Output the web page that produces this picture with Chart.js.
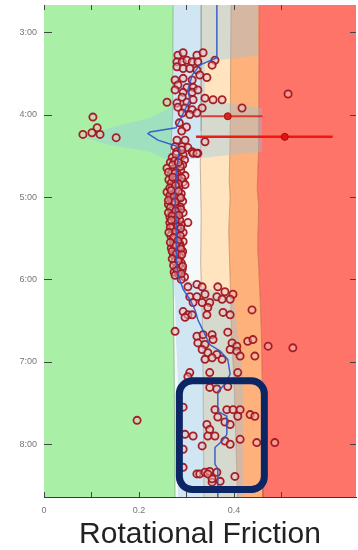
<!DOCTYPE html>
<html>
<head>
<meta charset="utf-8">
<script src="https://cdn.jsdelivr.net/npm/chart.js@4/dist/chart.umd.min.js"></script>
<style>
  html, body { margin: 0; padding: 0; background: #fff; }
  canvas { display: block; }
</style>
</head>
<body>
<canvas id="chart" width="358" height="550"></canvas>
<script>
// Axis ranges: friction (horizontal) and clock time in hours (vertical, downwards)
const frictionMin = 0, frictionMax = 0.657;
const timeMin = 2.67, timeMax = 8.64;
const hourLabels = ['3:00', '4:00', '5:00', '6:00', '7:00', '8:00'];
const frictionLabels = ['0', '0.2', '0.4', '0.6'];

// Zone boundaries [friction, hour]
const greenEdge  = [[0.272, 2.6], [0.271, 4.0], [0.266, 4.5], [0.268, 5.5], [0.272, 6.0], [0.274, 7.0], [0.276, 8.7]];
const whiteEdge  = [[0.331, 2.6], [0.331, 4.2], [0.329, 4.6], [0.331, 5.2], [0.330, 5.8], [0.333, 6.4], [0.335, 7.2], [0.337, 8.7]];
const peachEdge  = [[0.394, 2.6], [0.392, 4.3], [0.390, 4.8], [0.392, 5.0], [0.389, 5.4], [0.392, 6.0], [0.395, 6.7], [0.400, 7.2], [0.408, 8.7]];
const orangeEdge = [[0.453, 2.6], [0.452, 4.4], [0.449, 4.9], [0.452, 5.1], [0.450, 5.6], [0.455, 6.2], [0.458, 6.7], [0.460, 7.4], [0.461, 8.7]];

// Spread band around the trend
const spreadTime = [2.6, 3.28, 3.36, 3.82, 3.92, 4.04, 4.16, 4.28, 4.37, 4.45, 4.55, 5.03, 5.76, 6.0, 6.24, 6.73, 7.21, 8.7];
const spreadLow  = [0.272, 0.272, 0.272, 0.272, 0.265, 0.223, 0.139, 0.086, 0.139, 0.223, 0.261, 0.261, 0.263, 0.268, 0.276, 0.278, 0.282, 0.282];
const spreadHigh = [0.451, 0.451, 0.339, 0.339, 0.459, 0.459, 0.459, 0.459, 0.459, 0.459, 0.290, 0.288, 0.288, 0.300, 0.400, 0.410, 0.420, 0.420];

// Trend line [friction, hour]
const trend = [
  [0.364, 2.6], [0.364, 3.31], [0.328, 3.40], [0.312, 3.52], [0.303, 3.70], [0.307, 3.82], [0.297, 3.94],
  [0.286, 4.07], [0.278, 4.16], [0.223, 4.21], [0.219, 4.23], [0.240, 4.31], [0.278, 4.38], [0.286, 4.43],
  [0.282, 4.55], [0.278, 4.79], [0.276, 5.03], [0.278, 5.28], [0.280, 5.52], [0.278, 5.76], [0.282, 5.94],
  [0.293, 6.12], [0.307, 6.24], [0.318, 6.37], [0.324, 6.49], [0.339, 6.67], [0.349, 6.79], [0.371, 6.87],
  [0.387, 6.97], [0.392, 7.15], [0.381, 7.27], [0.366, 7.36], [0.366, 7.60], [0.385, 7.66], [0.385, 7.88],
  [0.375, 7.96], [0.360, 8.04], [0.360, 8.24], [0.366, 8.30], [0.366, 8.7]
];

// Readings [friction, hour]
const earlyReadings = [
  [0.282, 3.28], [0.293, 3.25], [0.322, 3.28], [0.335, 3.25], [0.360, 3.34], [0.354, 3.40], [0.280, 3.36],
  [0.291, 3.36], [0.301, 3.34], [0.312, 3.36], [0.324, 3.36], [0.280, 3.42], [0.293, 3.44], [0.307, 3.44],
  [0.322, 3.46], [0.343, 3.55], [0.276, 3.58], [0.293, 3.56], [0.312, 3.58], [0.328, 3.52], [0.282, 3.64],
  [0.301, 3.67], [0.314, 3.67], [0.276, 3.70], [0.293, 3.73], [0.312, 3.73], [0.324, 3.70], [0.291, 3.79],
  [0.259, 3.85], [0.280, 3.86], [0.301, 3.85], [0.314, 3.82], [0.339, 3.80], [0.356, 3.82], [0.375, 3.82],
  [0.282, 3.91], [0.297, 3.92], [0.312, 3.94], [0.333, 3.92], [0.291, 3.98], [0.307, 4.00], [0.322, 3.98],
  [0.417, 3.92], [0.514, 3.75], [0.285, 4.10], [0.300, 4.15], [0.290, 4.20]
];
const lowReadings = [
  [0.103, 4.03], [0.112, 4.16], [0.082, 4.24], [0.101, 4.22], [0.118, 4.24], [0.152, 4.28], [0.196, 7.71]
];
const steadyReadings = [
  [0.280, 4.31], [0.297, 4.31], [0.339, 4.33], [0.276, 4.39], [0.291, 4.39], [0.303, 4.40], [0.312, 4.45],
  [0.324, 4.47], [0.280, 4.45], [0.293, 4.49], [0.314, 4.47], [0.322, 4.47],
  [0.270, 4.52], [0.285, 4.53], [0.296, 4.55], [0.266, 4.58], [0.279, 4.60], [0.292, 4.61],
  [0.259, 4.65], [0.274, 4.66], [0.288, 4.68], [0.268, 4.72], [0.282, 4.73], [0.297, 4.74],
  [0.263, 4.79], [0.277, 4.80], [0.293, 4.82], [0.297, 4.85], [0.270, 4.87], [0.284, 4.88], [0.259, 4.94],
  [0.273, 4.95], [0.289, 4.96], [0.266, 5.01], [0.280, 5.03], [0.292, 5.05], [0.262, 5.09], [0.276, 5.10],
  [0.287, 5.12], [0.269, 5.16], [0.283, 5.18], [0.293, 5.19], [0.265, 5.24], [0.279, 5.25], [0.303, 5.31],
  [0.265, 5.31], [0.276, 5.32], [0.289, 5.34], [0.270, 5.39], [0.284, 5.41], [0.293, 5.43], [0.267, 5.47],
  [0.280, 5.48], [0.293, 5.54], [0.272, 5.55], [0.286, 5.57], [0.268, 5.62], [0.281, 5.64], [0.292, 5.66],
  [0.273, 5.70], [0.286, 5.72], [0.276, 5.78], [0.289, 5.80], [0.279, 5.86], [0.291, 5.88], [0.284, 5.94],
  [0.296, 5.97],
  [0.275, 4.56], [0.287, 4.63], [0.270, 4.69], [0.280, 4.76], [0.268, 4.83], [0.278, 4.91], [0.265, 4.98],
  [0.285, 5.00], [0.270, 5.06], [0.281, 5.14], [0.273, 5.21], [0.286, 5.28], [0.272, 5.35], [0.279, 5.44],
  [0.275, 5.51], [0.287, 5.60], [0.276, 5.67], [0.282, 5.75], [0.285, 5.83], [0.274, 5.91], [0.289, 6.00],
  [0.278, 4.48], [0.290, 4.43], [0.273, 5.58], [0.283, 5.91],
  [0.271, 4.61], [0.283, 4.58], [0.262, 4.70], [0.276, 4.71], [0.290, 4.77], [0.271, 4.76], [0.283, 4.84],
  [0.265, 4.89], [0.277, 4.86], [0.268, 4.92], [0.283, 4.93], [0.274, 5.00], [0.288, 5.01], [0.262, 5.04],
  [0.276, 5.06], [0.266, 5.13], [0.288, 5.15], [0.277, 5.17], [0.262, 5.19], [0.270, 5.23], [0.284, 5.22],
  [0.276, 5.28], [0.268, 5.28], [0.281, 5.36], [0.266, 5.37], [0.288, 5.38], [0.276, 5.42], [0.263, 5.43],
  [0.287, 5.47], [0.273, 5.49], [0.282, 5.53], [0.266, 5.55], [0.278, 5.59], [0.288, 5.63], [0.270, 5.66],
  [0.279, 5.69], [0.290, 5.70], [0.270, 5.75], [0.283, 5.78], [0.273, 5.83], [0.292, 5.84], [0.280, 5.89],
  [0.276, 5.95], [0.289, 5.93]
];
const lateReadings = [
  [0.303, 6.09], [0.322, 6.06], [0.333, 6.09], [0.366, 6.09], [0.381, 6.15], [0.398, 6.18], [0.307, 6.21],
  [0.322, 6.21], [0.339, 6.18], [0.364, 6.21], [0.375, 6.24], [0.392, 6.24], [0.314, 6.28], [0.333, 6.28],
  [0.349, 6.28], [0.345, 6.34], [0.293, 6.39], [0.303, 6.43], [0.312, 6.43], [0.297, 6.46], [0.343, 6.43],
  [0.377, 6.40], [0.392, 6.43], [0.438, 6.37], [0.276, 6.63], [0.322, 6.69], [0.335, 6.67], [0.354, 6.67],
  [0.387, 6.64], [0.324, 6.77], [0.339, 6.79], [0.356, 6.73], [0.396, 6.77], [0.406, 6.81], [0.429, 6.75],
  [0.440, 6.73], [0.472, 6.81], [0.524, 6.83], [0.333, 6.85], [0.345, 6.89], [0.364, 6.91], [0.392, 6.85],
  [0.406, 6.87], [0.354, 6.95], [0.339, 6.97], [0.375, 6.97], [0.413, 6.93], [0.444, 6.93], [0.307, 7.13],
  [0.349, 7.13], [0.408, 7.13]
];
const finalReadings = [
  [0.303, 7.18], [0.349, 7.31], [0.364, 7.33], [0.387, 7.30], [0.293, 7.55], [0.360, 7.58], [0.366, 7.67],
  [0.385, 7.58], [0.398, 7.58], [0.413, 7.58], [0.408, 7.66], [0.434, 7.64], [0.444, 7.66], [0.343, 7.76],
  [0.381, 7.73], [0.392, 7.76], [0.349, 7.82], [0.297, 7.88], [0.314, 7.90], [0.345, 7.90], [0.360, 7.90],
  [0.333, 8.02], [0.381, 7.96], [0.392, 8.00], [0.413, 7.94], [0.448, 7.98], [0.486, 7.98], [0.293, 8.06],
  [0.293, 8.28], [0.322, 8.36], [0.328, 8.36], [0.339, 8.34], [0.349, 8.33], [0.364, 8.34], [0.371, 8.45],
  [0.354, 8.46], [0.354, 8.42], [0.402, 8.39], [0.345, 8.36]
];

// Range markers: [low, mean, high] at a given hour
const rangeA = { time: 4.02, values: [0.330, 0.387, 0.460] };
const rangeB = { time: 4.27, values: [0.320, 0.507, 0.608] };

// Highlighted interval
const focusBox = { from: 0.285, to: 0.464, start: 7.23, end: 8.55 };

const pts = arr => arr.map(([x, y]) => ({ x, y }));
const zip = (xs, ys) => xs.map((x, i) => ({ x, y: ys[i] }));
const rangePts = r => r.values.map(v => ({ x: v, y: r.time }));

const allReadings = [].concat(earlyReadings, lowReadings, steadyReadings, lateReadings, finalReadings);

const edge = (data, bg, border, fill) => ({
  data: pts(data), backgroundColor: bg, borderColor: border, borderWidth: border ? 1 : 0,
  pointRadius: 0, fill, tension: 0
});

const datasets = [
  { data: rangePts(rangeB), borderColor: 'rgba(238,18,14,0.95)', borderWidth: 2.5,
    pointRadius: [0, 3.5, 0], pointBackgroundColor: '#e3120e', pointBorderColor: '#a0100c', pointBorderWidth: 1, fill: false },
  { data: rangePts(rangeA), borderColor: 'rgba(215,25,20,0.8)', borderWidth: 2,
    pointRadius: [0, 3.5, 0], pointBackgroundColor: '#d8241c', pointBorderColor: '#a0100c', pointBorderWidth: 1, fill: false },
  { data: pts(trend), borderColor: 'rgba(45,85,200,0.9)', borderWidth: 1.5, pointRadius: 0, fill: false, tension: 0 },
  { data: pts(allReadings), showLine: false, pointRadius: 3.6, pointBorderWidth: 1.8,
    pointBorderColor: 'rgba(160,22,32,0.95)', pointBackgroundColor: 'rgba(240,190,190,0.5)' },
  { data: zip(spreadLow, spreadTime), borderWidth: 0, pointRadius: 0, fill: false },
  { data: zip(spreadHigh, spreadTime), borderWidth: 0, pointRadius: 0, fill: '-1',
    backgroundColor: 'rgba(140,196,232,0.36)' },
  edge(greenEdge, '#a9efa6', 'rgba(110,150,110,0.6)', { value: frictionMin }),
  edge(whiteEdge, '#f6f9f9', 'rgba(170,150,120,0.7)', '-1'),
  edge(peachEdge, '#ffe4bf', 'rgba(190,130,80,0.7)', '-1'),
  edge(orangeEdge, '#ffb17b', 'rgba(195,95,65,0.7)', '-1'),
  edge(orangeEdge, '#fe7468', null, { value: frictionMax })
];

const innerTicks = {
  id: 'innerTicks',
  afterDraw(chart) {
    const { ctx, chartArea: a, scales: { x, y } } = chart;
    ctx.save();
    ctx.strokeStyle = '#454545';
    ctx.lineWidth = 1;
    ctx.beginPath();
    y.ticks.forEach(t => {
      if (!Number.isInteger(t.value)) return;
      const p = Math.round(y.getPixelForValue(t.value)) + 0.5;
      ctx.moveTo(a.left, p); ctx.lineTo(a.left + 8, p);
      ctx.moveTo(a.right, p); ctx.lineTo(a.right - 6, p);
    });
    x.ticks.forEach(t => {
      const k = t.value * 10;
      if (Math.abs(k - Math.round(k)) > 1e-6) return;
      const p = Math.round(x.getPixelForValue(t.value)) + 0.5;
      ctx.moveTo(p, a.bottom); ctx.lineTo(p, a.bottom - 5);
      ctx.moveTo(p, a.top); ctx.lineTo(p, a.top + 5);
    });
    ctx.stroke();
    ctx.restore();
  }
};

const focusFrame = {
  id: 'focusFrame',
  afterDraw(chart) {
    const { ctx, scales: { x, y } } = chart;
    const l = x.getPixelForValue(focusBox.from), r = x.getPixelForValue(focusBox.to);
    const t = y.getPixelForValue(focusBox.start), b = y.getPixelForValue(focusBox.end);
    ctx.save();
    ctx.strokeStyle = '#0b2565';
    ctx.lineWidth = 7;
    ctx.beginPath();
    ctx.roundRect(l, t, r - l, b - t, 13);
    ctx.stroke();
    ctx.restore();
  }
};

new Chart(document.getElementById('chart'), {
  type: 'line',
  data: { datasets },
  options: {
    responsive: false,
    animation: false,
    devicePixelRatio: 1,
    indexAxis: 'y',
    layout: { autoPadding: false, padding: { top: 5, right: 2, left: 0, bottom: 0 } },
    plugins: {
      legend: { display: false },
      tooltip: { enabled: false },
      title: {
        display: true, text: 'Rotational Friction', position: 'bottom', fullSize: false,
        color: '#222', font: { family: '"Liberation Sans", Arial, sans-serif', size: 30, weight: 'normal', lineHeight: 1 },
        padding: { top: 5, bottom: 0 }
      }
    },
    scales: {
      x: {
        type: 'linear', position: 'bottom', min: frictionMin, max: frictionMax, z: 1,
        afterFit: s => { s.height = 18; s.paddingLeft = 0; s.paddingRight = 0; },
        border: { color: '#3a3a3a', width: 1 },
        grid: {
          drawTicks: false,
          color: c => {
            const k = c.tick.value * 5;
            return Math.abs(k - Math.round(k)) < 1e-6 && c.tick.value > 0 ? 'rgba(40,40,40,0.22)' : 'rgba(0,0,0,0)';
          }
        },
        ticks: {
          stepSize: 0.1, padding: 8, color: '#777', maxRotation: 0, autoSkip: false,
          font: { family: '"Liberation Sans", Arial, sans-serif', size: 9 },
          callback: v => {
            const k = v * 5;
            if (Math.abs(k - Math.round(k)) > 1e-6) return '';
            return frictionLabels[Math.round(k)] ?? '';
          }
        }
      },
      y: {
        type: 'linear', reverse: true, min: timeMin, max: timeMax, z: 1,
        afterFit: s => { s.width = 44; s.paddingTop = 0; s.paddingBottom = 0; },
        border: { color: '#3a3a3a', width: 1 },
        grid: {
          drawTicks: false,
          color: c => Number.isInteger(c.tick.value) ? 'rgba(40,40,40,0.22)' : 'rgba(0,0,0,0)'
        },
        ticks: {
          stepSize: 1, padding: 7, color: '#777', autoSkip: false,
          font: { family: '"Liberation Sans", Arial, sans-serif', size: 9 },
          callback: v => Number.isInteger(v) ? (hourLabels[v - 3] ?? '') : ''
        }
      }
    }
  },
  plugins: [innerTicks, focusFrame]
});
</script>
</body>
</html>
